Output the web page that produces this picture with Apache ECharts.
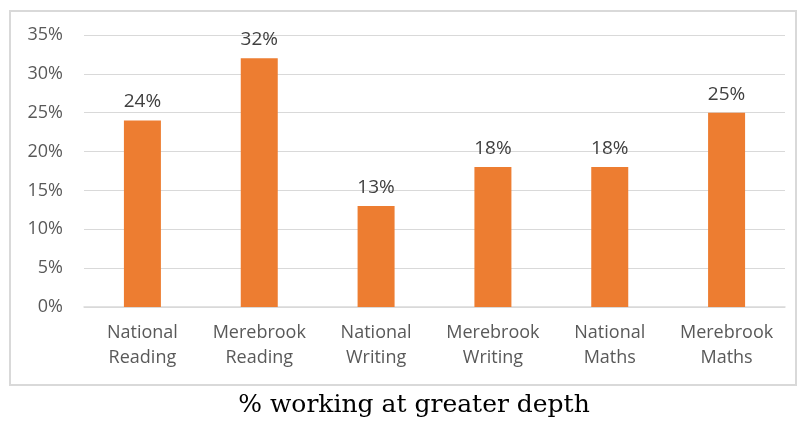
<!DOCTYPE html>
<html><head><meta charset="utf-8">
<script src="https://cdn.jsdelivr.net/npm/echarts@6/dist/echarts.min.js"></script>
<style>html,body{margin:0;padding:0;background:#fff}#c{width:801px;height:421px}</style>
</head><body><div id="c"></div>
<script>
const categories = ['National\nReading','Merebrook\nReading','National\nWriting','Merebrook\nWriting','National\nMaths','Merebrook\nMaths'];
const values = [24, 32, 13, 18, 18, 25];
const chart = echarts.init(document.getElementById('c'), null, {renderer:'canvas'});
chart.setOption({
  animation:false,
  backgroundColor:'#fff',
  graphic:[
    {type:'rect', shape:{x:10,y:11,width:786,height:374}, style:{fill:'none',stroke:'#d9d9d9',lineWidth:2}, silent:true},
    {type:'text', x:414, y:405, style:{text:'% working at greater depth', font:'25px "DejaVu Serif", serif', fill:'#000', align:'center', verticalAlign:'middle'}}
  ],
  grid:{left:84,right:16,top:35,bottom:114},
  xAxis:{type:'category',data:categories,
    axisLine:{lineStyle:{color:'#d9d9d9',width:1.5}},axisTick:{show:false},
    axisLabel:{color:'#595959',fontSize:18,lineHeight:25,margin:13,fontFamily:'"Open Sans", sans-serif',interval:0}},
  yAxis:{type:'value',min:0,max:35,interval:5,
    axisLabel:{formatter:'{value}%',color:'#595959',fontSize:18,margin:21,fontFamily:'"Open Sans", sans-serif'},
    splitLine:{lineStyle:{color:'#d9d9d9',width:1.2}},axisLine:{show:false},axisTick:{show:false}},
  series:[{type:'bar',data:values,barWidth:37,itemStyle:{color:'#ED7D31'},
    label:{show:true,position:'top',distance:9,formatter:'{c}%',color:'#404040',fontSize:19,fontFamily:'"Open Sans", sans-serif'}}]
});
</script></body></html>
